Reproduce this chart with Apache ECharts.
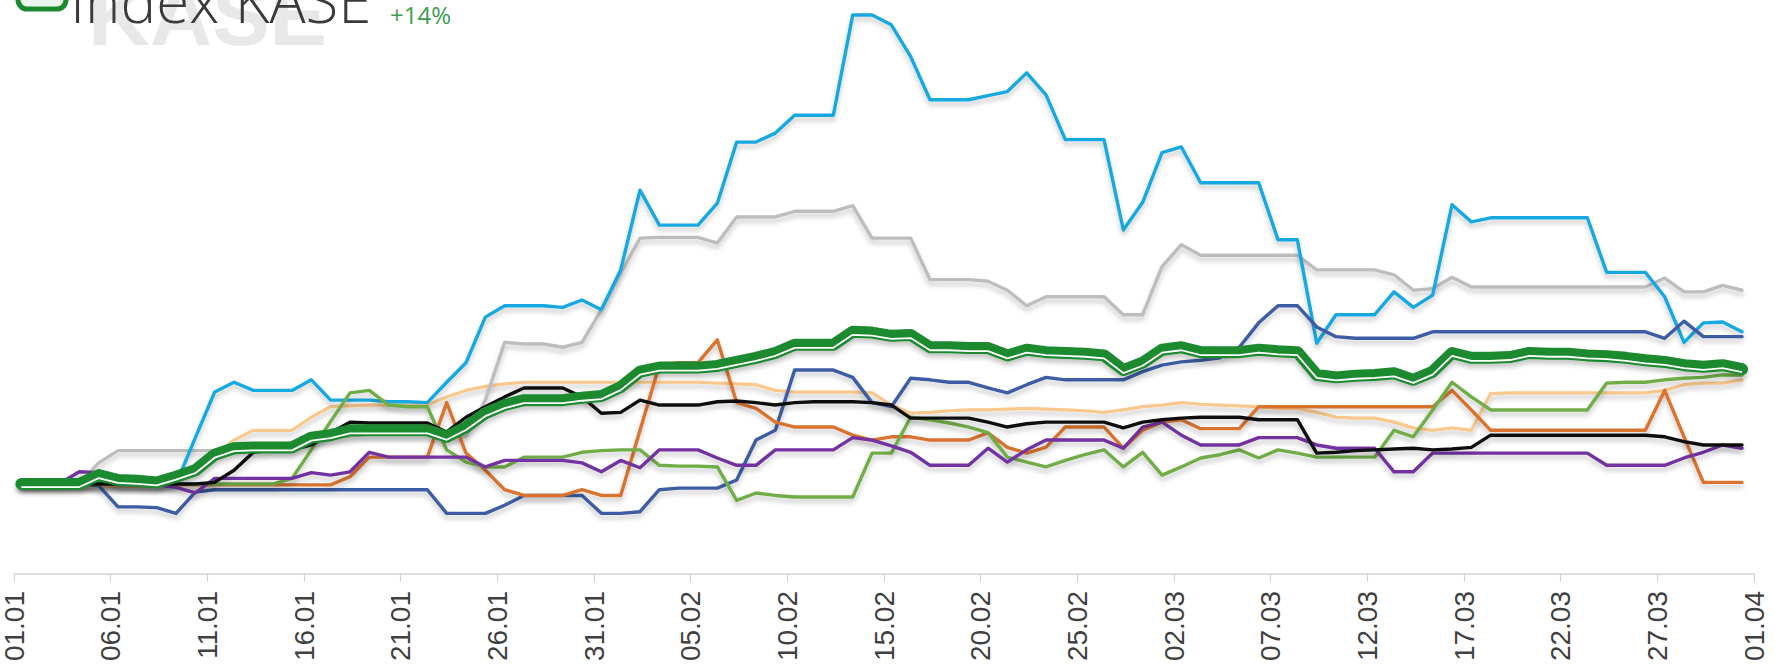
<!DOCTYPE html>
<html><head><meta charset="utf-8">
<script src="https://cdn.jsdelivr.net/npm/echarts/dist/echarts.min.js"></script>
<style>html,body{margin:0;padding:0;background:#fff;overflow:hidden}#c{width:1775px;height:666px}</style>
</head><body><div id="c"></div>
<script>
// Tick labels every 5 days (01.01 ... 01.04)
const tickLabels = ['01.01','06.01','11.01','16.01','21.01','26.01','31.01','05.02','10.02','15.02','20.02','25.02','02.03','07.03','12.03','17.03','22.03','27.03','01.04'];

// Daily % change since 01.01 (01.01 ... 31.03, 90 points)
const lightBlue = [
0,0,0,0,0,0,0,0,0,5.7,
11.3,12.5,11.5,11.5,11.5,12.8,10.3,10.3,10.3,10.1,
10.1,10.0,12.5,14.9,20.5,21.9,21.9,21.9,21.7,22.6,
21.4,26.3,36.1,31.8,31.8,31.8,34.5,42.0,42.0,43.1,
45.3,45.3,45.3,57.6,57.6,56.4,52.5,47.2,47.2,47.2,
47.7,48.2,50.5,47.8,42.3,42.3,42.3,31.2,34.6,40.7,
41.4,37.0,37.0,37.0,37.0,30.0,30.0,17.3,20.8,20.8,
20.8,23.6,21.7,23.2,34.3,32.2,32.7,32.7,32.7,32.7,
32.7,32.7,26.0,26.0,26.0,23.0,17.4,19.8,19.9,18.7];

const gray = [
0,0,0,0,2.6,4.1,4.1,4.1,4.1,4.1,
4.1,4.4,4.8,4.9,5.0,5.3,5.7,5.9,6.1,6.1,
6.1,6.1,5.9,5.8,10.3,17.4,17.2,17.2,16.8,17.4,
21.4,25.9,30.2,30.3,30.3,30.3,29.6,32.8,32.8,32.8,
33.5,33.5,33.5,34.2,30.2,30.2,30.2,25.1,25.1,25.1,
24.9,23.8,21.9,23.0,23.0,23.0,23.0,20.8,20.8,26.7,
29.4,28.1,28.1,28.1,28.1,28.1,28.1,26.3,26.3,26.3,
26.3,25.7,23.8,24.0,25.4,24.2,24.2,24.2,24.2,24.2,
24.2,24.2,24.2,24.2,24.2,25.3,23.6,23.6,24.4,23.8];

const darkBlue = [
0,0,0,0,-0.2,-2.8,-2.8,-2.9,-3.6,-1.0,
-0.7,-0.7,-0.7,-0.7,-0.7,-0.7,-0.7,-0.7,-0.7,-0.7,
-0.7,-0.7,-3.6,-3.6,-3.6,-2.6,-1.4,-1.4,-1.4,-1.4,
-3.6,-3.6,-3.4,-0.7,-0.5,-0.5,-0.5,0.5,5.4,6.6,
14.0,14.0,14.0,13.1,10.0,9.5,13.0,12.8,12.5,12.5,
11.8,11.2,12.2,13.1,12.8,12.8,12.8,12.8,13.8,14.6,
15.0,15.2,15.5,16.8,19.8,21.9,21.9,19.3,18.1,17.9,
17.9,17.9,17.9,18.7,18.7,18.7,18.7,18.7,18.7,18.7,
18.7,18.7,18.7,18.7,18.7,17.9,20.0,18.1,18.1,18.1];

const kase = [
0,0,0,0,1.1,0.5,0.4,0.2,0.9,1.7,
3.6,4.4,4.5,4.5,4.5,5.7,6.0,6.6,6.6,6.6,
6.6,6.6,5.8,7.0,8.7,9.7,10.3,10.3,10.3,10.6,
10.8,11.9,13.8,14.3,14.3,14.3,14.5,15.0,15.5,16.1,
17.1,17.1,17.1,18.7,18.6,18.2,18.3,16.8,16.8,16.7,
16.7,15.8,16.5,16.2,16.1,16.0,15.8,14.0,14.9,16.5,
16.8,16.2,16.2,16.2,16.5,16.3,16.2,13.4,13.1,13.3,
13.4,13.6,12.8,13.8,16.1,15.5,15.5,15.6,16.1,16.0,
16.0,15.8,15.7,15.5,15.2,15.0,14.6,14.4,14.6,14.1];

const peach = [
0,0,0,0,-0.3,-0.3,-0.3,-0.3,0.5,1.7,
3.6,5.4,6.6,6.6,6.6,8.2,9.5,9.6,9.7,9.7,
9.7,9.7,10.7,11.5,12.0,12.3,12.5,12.5,12.5,12.5,
12.5,12.5,12.5,12.5,12.5,12.5,12.4,12.3,12.2,11.5,
11.3,11.3,11.3,11.3,11.2,9.7,8.7,8.8,9.0,9.1,
9.1,9.2,9.3,9.2,9.1,9.0,8.8,9.1,9.5,9.7,
10.0,9.8,9.7,9.6,9.5,9.3,9.3,8.8,8.2,8.1,
8.1,7.6,6.9,6.6,6.9,6.6,11.1,11.2,11.2,11.2,
11.2,11.2,11.2,11.2,11.2,11.5,12.2,12.4,12.4,12.8];

const orange = [
0,0,0,0,0,0,0,0,-0.1,-0.1,
-0.1,-0.1,-0.1,-0.1,-0.1,-0.1,-0.1,0.9,3.3,3.3,
3.3,3.3,10.0,3.8,1.7,-0.7,-1.4,-1.4,-1.4,-0.7,
-1.4,-1.4,6.6,14.6,14.9,14.9,17.7,10.0,9.3,7.6,
7.0,7.0,7.0,6.0,5.4,5.8,5.8,5.4,5.4,5.4,
6.3,4.5,3.8,4.5,7.0,7.0,7.0,4.4,6.6,7.6,
7.9,6.8,6.8,6.8,9.5,9.5,9.5,9.5,9.5,9.5,
9.5,9.5,9.5,9.5,11.5,9.1,6.6,6.6,6.6,6.6,
6.6,6.6,6.6,6.6,6.6,11.5,5.8,0.2,0.2,0.2];

const lightGreen = [
0,0,0,0,0,0,0,0,0,0,
0,0,0,0,0.7,4.2,7.7,11.2,11.5,9.7,
9.5,9.5,4.2,2.7,2.1,2.1,3.3,3.3,3.3,3.9,
4.1,4.2,4.2,2.3,2.2,2.2,2.1,-2.0,-1.1,-1.4,
-1.6,-1.6,-1.6,-1.6,3.8,3.8,8.2,7.9,7.5,7.0,
6.3,3.3,2.7,2.1,2.9,3.6,4.2,2.1,3.9,1.1,
2.1,3.2,3.6,4.2,3.2,4.2,3.8,3.3,3.3,3.3,
3.3,6.6,5.8,9.1,12.5,10.7,9.1,9.1,9.1,9.1,
9.1,9.1,12.4,12.5,12.5,12.8,13.0,13.1,13.4,13.4];

const black = [
0,0,0,0,0,0,0,0,0,0,
0.2,1.7,3.9,4.2,4.2,4.8,6.3,7.6,7.5,7.5,
7.5,7.5,6.4,8.2,9.5,10.7,11.8,11.8,11.8,10.7,
8.7,8.8,10.3,9.7,9.7,9.7,10.1,10.2,10.0,9.7,
10.0,10.1,10.1,10.1,10.0,9.7,8.1,8.1,8.1,8.1,
7.6,7.0,7.4,7.6,7.6,7.6,7.6,6.9,7.6,7.9,
8.1,8.2,8.2,8.2,7.9,7.9,7.9,3.8,3.9,4.1,
4.2,4.3,4.4,4.2,4.3,4.5,6.0,6.0,6.0,6.0,
6.0,6.0,6.0,6.0,6.0,5.8,5.2,4.8,4.8,4.8];

const purple = [
0,0,0.1,1.5,1.4,-0.1,-0.1,-0.1,-0.4,-1.1,
0.7,0.7,0.7,0.7,0.7,1.4,1.1,1.5,3.9,3.3,
3.3,3.3,3.3,3.3,2.1,2.9,2.9,2.9,2.9,2.6,
1.5,2.9,2.0,4.2,4.2,4.2,3.2,2.3,2.3,4.2,
4.2,4.2,4.2,5.7,5.4,4.7,3.9,2.3,2.3,2.3,
4.4,2.7,4.2,5.4,5.4,5.4,5.4,4.4,7.0,7.6,
6.0,4.8,4.8,4.8,5.7,5.7,5.7,4.8,4.4,4.4,
4.4,1.5,1.5,3.8,3.8,3.8,3.8,3.8,3.8,3.8,
3.8,3.8,2.3,2.3,2.3,2.3,3.2,3.9,4.8,4.4];

const legendName = 'Index KASE';
const legendChange = '+14%';
const watermark = 'KASE';

const GREEN = '#1B8A2F';
function line(name, data, color, width) {
  return {
    type: 'line', name: name, xAxisIndex: 1, yAxisIndex: 0,
    data: data.map((v, i) => [i, v]),
    showSymbol: false, symbol: 'none', silent: true,
    lineStyle: { color: color, width: width, cap: 'round', join: 'round',
      shadowColor: 'rgba(0,0,0,0.22)', shadowBlur: 5, shadowOffsetY: 4 },
    emphasis: { disabled: true }
  };
}

const series = [
  line('Peach', peach, '#F9C88C', 3.2),
  line('Gray', gray, '#BDBDBD', 3.4),
  line('Light blue', lightBlue, '#18A8E0', 3.4),
  line('Dark blue', darkBlue, '#3C5CA3', 3.4),
  line('Orange', orange, '#D9732E', 3.4),
  line('Light green', lightGreen, '#6FAD47', 3.4),
  line('Purple', purple, '#7231A0', 3.4),
  line('Black', black, '#111111', 3.4),
  line(legendName, kase, GREEN, 12),
  {
    type: 'line', name: legendName + ' inner', xAxisIndex: 1, yAxisIndex: 0,
    data: kase.map((v, i) => [i, v]), showSymbol: false, symbol: 'none', silent: true,
    lineStyle: { color: GREEN, width: 1.8, shadowColor: '#ffffff', shadowBlur: 0, shadowOffsetY: 3 },
    emphasis: { disabled: true }
  }
];

const chart = echarts.init(document.getElementById('c'), null, { renderer: 'svg' });
chart.setOption({
  animation: false,
  backgroundColor: '#ffffff',
  grid: { left: 14, right: 21, top: 0, bottom: 92, containLabel: false, outerBoundsMode: 'none' },
  xAxis: [
    {
      type: 'value', min: 0, max: 90, interval: 5, position: 'bottom',
      axisLine: { show: true, onZero: false, lineStyle: { color: '#D4D4D4', width: 1.5 } },
      axisTick: { show: true, length: 8, lineStyle: { color: '#D4D4D4', width: 1.2 } },
      splitLine: { show: false },
      axisLabel: { rotate: 90, margin: 17, fontSize: 28, color: '#404040', fontFamily: 'Liberation Sans',
        showMinLabel: true, showMaxLabel: true,
        formatter: v => tickLabels[Math.round(v / 5)] }
    },
    { type: 'value', min: -0.38, max: 89.62, show: false }
  ],
  yAxis: { type: 'value', min: -11.05, max: 59.45, show: false, splitLine: { show: false } },
  graphic: [
    { type: 'text', x: 88, y: -28, z: -10, silent: true,
      style: { text: watermark, font: 'bold 86px "Liberation Sans"', fill: '#E8E8E8' } },
    { type: 'rect', shape: { x: 18, y: -10, width: 48, height: 19, r: 9 }, silent: true,
      style: { fill: '#EAF5EB', stroke: GREEN, lineWidth: 5 } },
    { type: 'text', x: 70, y: -30, silent: true,
      style: { text: legendName, font: '300 60px "Open Sans"', fill: '#3A3A3A' } },
    { type: 'text', x: 390, y: 2, silent: true,
      style: { text: legendChange, font: '24px "Open Sans"', fill: '#3E9C4C' } }
  ],
  series: series
});
</script></body></html>
